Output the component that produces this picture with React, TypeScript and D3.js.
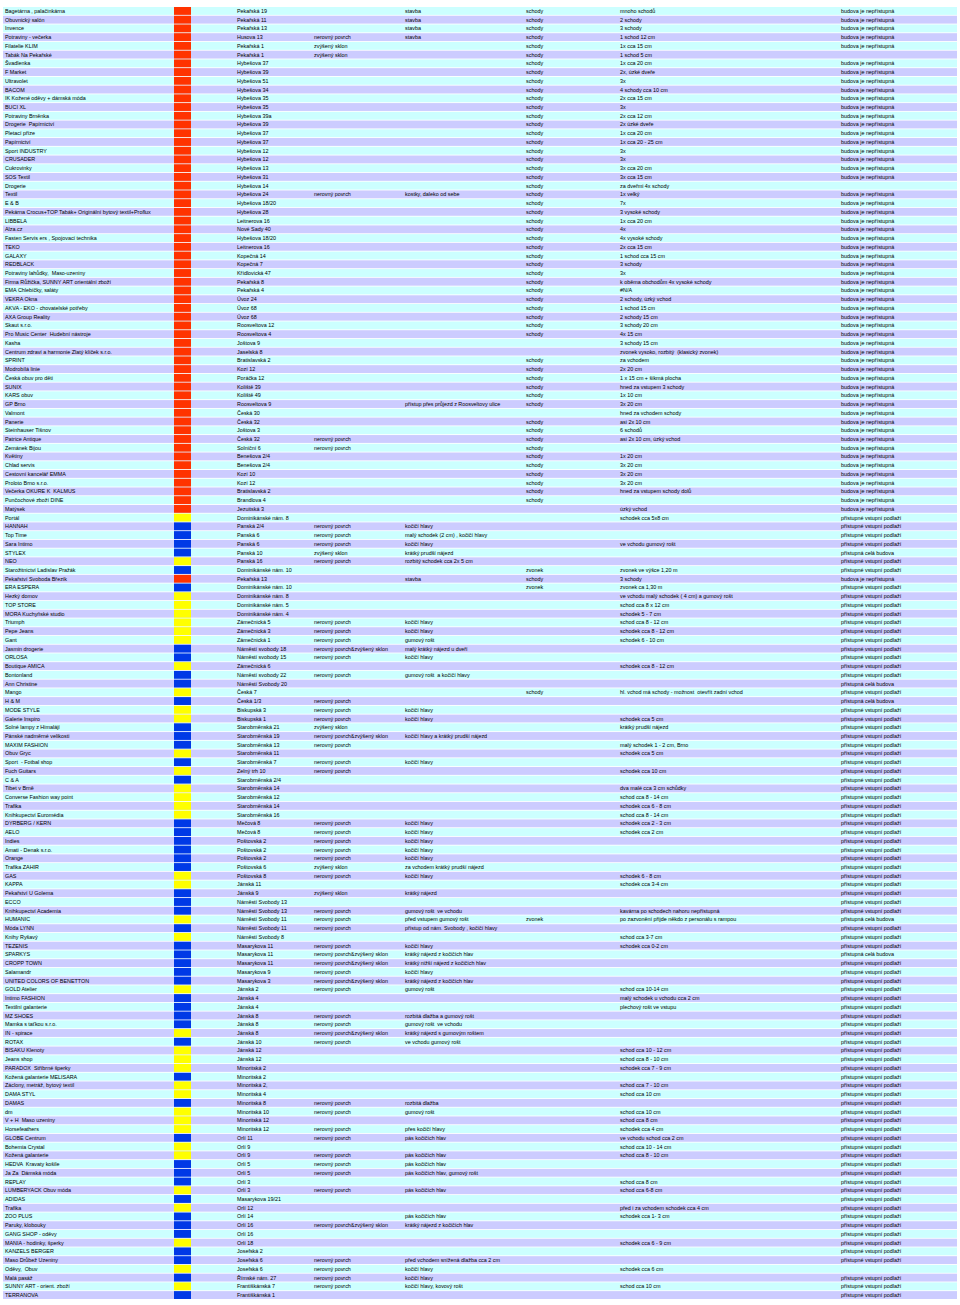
import React, { useEffect, useRef } from "react";
import * as d3 from "d3";

// shop names, one per table row
const shopNames = [
  "Bagetárna , palačinkárna", "Obuvnický salón", "Invence", "Potraviny - večerka", "Filatelie KLIM", "Tabák Na Pekařské", "Švadlenka", "F Market", "Ultravolet", "BACOM",
  "IK Kožené oděvy + dámská móda", "BUCI XL", "Potraviny Brněnka", "Drogerie  Papírnictví", "Pletací příze", "Papírnictví", "Sport INDUSTRY", "CRUSADER", "Cukrovinky", "SOS Textil",
  "Drogerie", "Textil", "E & B", "Pekárna Crocus+TOP Tabák+ Originální bytový textil+Proflux", "LIBBELA", "Alza.cz", "Fasten Servis ers , Spojovací technika", "TEKO", "GALAXY", "REDBLACK",
  "Potraviny lahůdky,  Maso-uzeniny", "Firma Růžička, SUNNY ART orientální zboží", "EMA Chlebíčky, saláty", "VEKRA Okna", "AKVA - EKO - chovatelské potřeby", "AXA Group Reality", "Skaut s.r.o.", "Pro Music Center  Hudební nástroje", "Kasha", "Centrum zdraví a harmonie Zlatý klíček s.r.o.",
  "SPRINT", "Modrobílá linie", "Česká obuv pro děti", "SUNIX", "KARS obuv", "GP Brno", "Valmont", "Panerie", "Steinhauser Tišnov", "Patrice Antique",
  "Zemánek Bijou", "Květiny", "Chlad servis", "Cestovní kancelář EMMA", "Proloto Brno s.r.o.", "Večerka OKURE K  KALMUS", "Punčochové zboží DINE", "Matýsek", "Portál", "HANNAH",
  "Top Time", "Sara Intimo", "STYLEX", "NEO", "Starožitnictví Ladislav Pražák", "Pekařství Svoboda Březík", "ERA ESPERA", "Hezký domov", "TOP STORE", "MORA Kuchyňské studio",
  "Triumph", "Pepe Jeans", "Gant", "Jasmin drogerie", "ORLOSA", "Boutique AMICA", "Bontonland", "Ann Christine", "Mango", "H & M",
  "MODE STYLE", "Galerie Inspiro", "Solné lampy z Himalájí", "Pánské nadměrné velikosti", "MAXIM FASHION", "Obuv Gryc", "Sport  - Fotbal shop", "Fuch Guitars", "C & A", "Tibet v Brně",
  "Converse Fashion way point", "Trafika", "Knihkupectví Euromédia", "DYRBERG / KERN", "AELO", "Indies", "Amati - Denak s.r.o.", "Orange", "Trafika ZAHIR", "GAS",
  "KAPPA", "Pekařství U Golema", "ECCO", "Knihkupectví Academia", "HUMANIC", "Móda LYNN", "Knihy Ryšavý", "TEZENIS", "SPARKYS", "CROPP TOWN",
  "Salamandr", "UNITED COLORS OF BENETTON", "GOLD Atelier", "Intimo FASHION", "Textilní galanterie", "MZ SHOES", "Mamka s taťkou s.r.o.", "IN - spirace", "ROTAX", "BISAKU Klenoty",
  "Jeans shop", "PARADOX  Stříbrné šperky", "Kožená galanterie MELISARA", "Záclony, metráž, bytový textil", "DAMA STYL", "DAMAS", "dm", "V + H  Maso uzeniny", "Horsefeathers", "GLOBE Centrum",
  "Bohemia Crystal", "Kožená galanterie", "HEDVA  Kravaty košile", "Ja Za  Dámská móda", "REPLAY", "LUMBERYACK Obuv móda", "ADIDAS", "Trafika", "ZOO PLUS", "Paruky, klobouky",
  "GANG SHOP - oděvy", "MANIA - hodinky, šperky", "KANZELS BERGER", "Maso Drůbež Uzeniny", "Oděvy,  Obuv", "Malá pasáž", "SUNNY ART - orient. zboží", "TERRANOVA",
];

// r = nepřístupná (red), y = částečně (yellow), b = přístupná (blue)
const colorCodes = [
  "r", "r", "r", "r", "r", "r", "r", "r", "r", "r",
  "r", "r", "r", "r", "r", "r", "r", "r", "r", "r",
  "r", "r", "r", "r", "r", "r", "r", "r", "r", "r",
  "r", "r", "r", "r", "r", "r", "r", "r", "r", "r",
  "r", "r", "r", "r", "r", "r", "r", "r", "r", "r",
  "r", "r", "r", "r", "r", "r", "r", "r", "y", "b",
  "b", "b", "b", "y", "b", "r", "b", "y", "y", "y",
  "y", "y", "y", "b", "b", "y", "b", "b", "y", "b",
  "y", "y", "b", "b", "b", "y", "b", "y", "b", "y",
  "y", "y", "y", "b", "b", "b", "b", "b", "b", "y",
  "y", "b", "b", "b", "y", "b", "y", "b", "b", "b",
  "b", "b", "y", "b", "b", "b", "b", "y", "b", "y",
  "y", "y", "b", "y", "y", "b", "y", "y", "y", "b",
  "y", "y", "b", "b", "b", "y", "b", "y", "b", "b",
  "b", "y", "b", "b", "y", "b", "y", "b",
];

const streets = [
  "Pekařská 19", "Pekařská 11", "Pekařská 13", "Husova 13", "Pekařská 1", "Pekařská 1", "Hybešova 37", "Hybešova 39", "Hybešova 51", "Hybešova 34",
  "Hybešova 35", "Hybešova 35", "Hybešova 39a", "Hybešova 39", "Hybešova 37", "Hybešova 37", "Hybešova 12", "Hybešova 12", "Hybešova 13", "Hybešova 31",
  "Hybešova 14", "Hybešova 24", "Hybešova 18/20", "Hybešova 28", "Leitnerova 16", "Nové Sady 40", "Hybešova 18/20", "Leitnerova 16", "Kopečná 14", "Kopečná 7",
  "Křídlovická 47", "Pekařská 8", "Pekařská 4", "Úvoz 24", "Úvoz 68", "Úvoz 68", "Roosveltova 12", "Roosveltova 4", "Joštova 9", "Jaselská 8",
  "Bratislavská 2", "Kozí 12", "Poráčka 12", "Koliště 39", "Koliště 49", "Roosveltova 9", "Česká 30", "Česká 32", "Joštova 3", "Česká 32",
  "Solniční 6", "Benešova 2/4", "Benešova 2/4", "Kozí 10", "Kozí 12", "Bratislavská 2", "Brandlova 4", "Jezuitská 3", "Dominikánské nám. 8", "Panská 2/4",
  "Panská 6", "Panská 6", "Panská 10", "Panská 16", "Dominikánské nám. 10", "Pekařská 13", "Dominikánské nám. 10", "Dominikánské nám. 8", "Dominikánské nám. 5", "Dominikánské nám. 4",
  "Zámečnická 5", "Zámečnická 3", "Zámečnická 1", "Náměstí svobody 18", "Náměstí svobody 15", "Zámečnická 6", "Náměstí svobody 22", "Náměstí Svobody 20", "Česká 7", "Česká 1/3",
  "Biskupská 3", "Biskupská 1", "Starobrněnská 21", "Starobrněnská 19", "Starobrněnská 13", "Starobrněnská 11", "Starobrněnská 7", "Zelný trh 10", "Starobrněnská 2/4", "Starobrněnská 14",
  "Starobrněnská 12", "Starobrněnská 14", "Starobrněnská 16", "Mečová 8", "Mečová 8", "Poštovská 2", "Poštovská 2", "Poštovská 2", "Poštovská 6", "Poštovská 8",
  "Jánská 11", "Jánská 9", "Náměstí Svobody 13", "Náměstí Svobody 13", "Náměstí Svobody 11", "Náměstí Svobody 11", "Náměstí Svobody 8", "Masarykova 11", "Masarykova 11", "Masarykova 11",
  "Masarykova 9", "Masarykova 3", "Jánská 2", "Jánská 4", "Jánská 4", "Jánská 8", "Jánská 8", "Jánská 8", "Jánská 10", "Jánská 12",
  "Jánská 12", "Minoritská 2", "Minoritská 2", "Minoritská 2,", "Minoritská 4", "Minoritská 8", "Minoritská 10", "Minoritská 12", "Minoritská 12", "Orlí 11",
  "Orlí 9", "Orlí 9", "Orlí 5", "Orlí 5", "Orlí 3", "Orlí 3", "Masarykova 19/21", "Orlí 12", "Orlí 14", "Orlí 16",
  "Orlí 16", "Orlí 18", "Josefská 2", "Josefská 6", "Josefská 6", "Římské nám. 27", "Františkánská 7", "Františkánská 1",
];

// N = nerovný povrch, Z = zvýšený sklon, NZ = both
const surfaceCodes = [
  "", "", "", "N", "Z", "Z", "", "", "", "",
  "", "", "", "", "", "", "", "", "", "",
  "", "N", "", "", "", "", "", "", "", "",
  "", "", "", "", "", "", "", "", "", "",
  "", "", "", "", "", "", "", "", "", "N",
  "N", "", "", "", "", "", "", "", "", "N",
  "N", "N", "Z", "N", "", "", "", "", "", "",
  "N", "N", "N", "NZ", "N", "", "N", "", "", "N",
  "N", "N", "Z", "NZ", "N", "", "N", "N", "", "",
  "", "", "", "N", "N", "N", "N", "N", "Z", "N",
  "", "Z", "", "N", "N", "N", "", "N", "NZ", "NZ",
  "N", "NZ", "N", "", "", "N", "N", "NZ", "N", "",
  "", "", "", "", "", "N", "N", "", "N", "N",
  "", "N", "N", "N", "", "N", "", "", "", "NZ",
  "", "", "", "N", "N", "N", "N", "",
];

const surfaceNotes = [
  "stavba", "stavba", "stavba", "stavba", "", "", "", "", "", "",
  "", "", "", "", "", "", "", "", "", "",
  "", "kostky, daleko od sebe", "", "", "", "", "", "", "", "",
  "", "", "", "", "", "", "", "", "", "",
  "", "", "", "", "", "přístup přes průjezd z Roosveltovy ulice", "", "", "", "",
  "", "", "", "", "", "", "", "", "", "kočičí hlavy",
  "malý schodek (2 cm) , kočičí hlavy", "kočičí hlavy", "krátký prudší nájezd", "rozbitý schodek cca 2x 5 cm", "", "stavba", "", "", "", "",
  "kočičí hlavy", "kočičí hlavy", "gumový rošt", "malý krátký nájezd u dveří", "kočičí hlavy", "", "gumový rošt  a kočičí hlavy", "", "", "",
  "kočičí hlavy", "kočičí hlavy", "", "kočičí hlavy a krátký prudší nájezd", "", "", "kočičí hlavy", "", "", "",
  "", "", "", "kočičí hlavy", "kočičí hlavy", "kočičí hlavy", "kočičí hlavy", "kočičí hlavy", "za vchodem krátký prudší nájezd", "kočičí hlavy",
  "", "krátký nájezd", "", "gumový rošt  ve vchodu", "před vstupem gumový rošt", "přístup od nám. Svobody , kočičí hlavy", "", "kočičí hlavy", "krátký nájezd z kočičích hlav", "krátký nižší nájezd z kočičích hlav",
  "kočičí hlavy", "krátký nájezd z kočičích hlav", "gumový rošt", "", "", "rozbitá dlažba a gumový rošt", "gumový rošt  ve vchodu", "krátký nájezd s gumovým roštem", "ve vchodu gumový rošt", "",
  "", "", "", "", "", "rozbitá dlažba", "gumový rošt", "", "přes kočičí hlavy", "pás kočičích hlav",
  "", "pás kočičích hlav", "pás kočičích hlav", "pás kočičích hlav, gumový rošt", "", "pás kočičích hlav", "", "", "pás kočičích hlav", "krátký nájezd z kočičích hlav",
  "", "", "", "před vchodem snížená dlažba cca 2 cm", "kočičí hlavy", "kočičí hlavy", "kočičí hlavy, kovový rošt", "",
];

// S = schody, Z = zvonek
const entryCodes = [
  "S", "S", "S", "S", "S", "S", "S", "S", "S", "S",
  "S", "S", "S", "S", "S", "S", "S", "S", "S", "S",
  "S", "S", "S", "S", "S", "S", "S", "S", "S", "S",
  "S", "S", "S", "S", "S", "S", "S", "S", "", "",
  "S", "S", "S", "S", "S", "S", "", "S", "S", "S",
  "S", "S", "S", "S", "S", "S", "S", "", "", "",
  "", "", "", "", "Z", "S", "Z", "", "", "",
  "", "", "", "", "", "", "", "", "S", "",
  "", "", "", "", "", "", "", "", "", "",
  "", "", "", "", "", "", "", "", "", "",
  "", "", "", "", "Z", "", "", "", "", "",
  "", "", "", "", "", "", "", "", "", "",
  "", "", "", "", "", "", "", "", "", "",
  "", "", "", "", "", "", "", "", "", "",
  "", "", "", "", "", "", "", "",
];

const entryNotes = [
  "mnoho schodů", "2 schody", "3 schody", "1 schod 12 cm", "1x cca 15 cm", "1 schod 5 cm", "1x cca 20 cm", "2x, úzké dveře", "3x", "4 schody cca 10 cm",
  "2x cca 15 cm", "3x", "2x cca 12 cm", "2x úzké dveře", "1x cca 20 cm", "1x cca 20 - 25 cm", "3x", "3x", "3x cca 20 cm", "3x cca 15 cm",
  "za dveřmi 4x schody", "1x velký", "7x", "3 vysoké schody", "1x cca 20 cm", "4x", "4x vysoké schody", "2x cca 15 cm", "1 schod cca 15 cm", "3 schody",
  "3x", "k oběma obchodům 4x vysoké schody", "#N/A", "2 schody, úzký vchod", "1 schod 15 cm", "2 schody 15 cm", "3 schody 20 cm", "4x 15 cm", "3 schody 15 cm", "zvonek vysoko, rozbitý  (klasický zvonek)",
  "za vchodem", "2x 20 cm", "1 x 15 cm + šikmá plocha", "hned za vstupem 3 schody", "1x 10 cm", "3x 20 cm", "hned za vchodem schody", "asi 2x 10 cm", "6 schodů", "asi 2x 10 cm, úzký vchod",
  "", "1x 20 cm", "3x 20 cm", "3x 20 cm", "3x 20 cm", "hned za vstupem schody dolů", "", "úzký vchod", "schodek cca 5x8 cm", "",
  "", "ve vchodu gumový rošt", "", "", "zvonek ve výšce 1,20 m", "3 schody", "zvonek ca 1,30 m", "ve vchodu malý schodek ( 4 cm) a gumový rošt", "schod cca 8 x 12 cm", "schodek 5 - 7 cm",
  "schod cca 8 - 12 cm", "schodek cca 8 - 12 cm", "schodek 6 - 10 cm", "", "", "schodek cca 8 - 12 cm", "", "", "hl. vchod má schody - možnost  otevřít zadní vchod", "",
  "", "schodek cca 5 cm", "krátký prudší nájezd", "", "malý schodek 1 - 2 cm, Brno", "schodek cca 5 cm", "", "schodek cca 10 cm", "", "dva malé cca 3 cm schůdky",
  "schod cca 8 - 14 cm", "schodek cca 6 - 8 cm", "schod cca 8 - 14 cm", "schodek cca 2 - 3 cm", "schodek cca 2 cm", "", "", "", "", "schodek 6 - 8 cm",
  "schodek cca 3-4 cm", "", "", "kavárna po schodech nahoru nepřístupná", "po zazvonění přijde někdo z personálu s rampou", "", "schod cca 3-7 cm", "schodek cca 0-2 cm", "", "",
  "", "", "schod cca 10-14 cm", "malý schodek u vchodu cca 2 cm", "plechový rošt ve vstupu", "", "", "", "", "schod cca 10 - 12 cm",
  "schod cca 8 - 10 cm", "schodek cca 7 - 9 cm", "", "schod cca 7 - 10 cm", "schod cca 10 cm", "", "schod cca 10 cm", "schod cca 8 cm", "schodek cca 4 cm", "ve vchodu schod cca 2 cm",
  "schod cca 10 - 14 cm", "schod cca 8 - 10 cm", "", "", "schod cca 8 cm", "schod cca 6-8 cm", "", "před i za vchodem schodek cca 4 cm", "schodek cca 1- 3 cm", "",
  "", "schodek cca 6 - 9 cm", "", "", "schodek cca 6 cm", "", "schod cca 10 cm", "",
];

// n = budova je nepřístupná, v = přístupné vstupní podlaží, c = přístupná celá budova
const accessCodes = [
  "n", "n", "n", "n", "n", "", "n", "n", "n", "n",
  "n", "n", "n", "n", "n", "n", "n", "n", "n", "n",
  "", "n", "n", "n", "n", "n", "n", "n", "n", "n",
  "n", "n", "n", "n", "n", "n", "n", "n", "n", "n",
  "n", "n", "n", "n", "n", "n", "n", "n", "n", "n",
  "n", "n", "n", "n", "n", "n", "n", "n", "v", "v",
  "v", "v", "c", "v", "v", "n", "v", "v", "v", "v",
  "v", "v", "v", "v", "v", "v", "v", "c", "v", "c",
  "v", "v", "v", "v", "v", "v", "v", "v", "v", "v",
  "v", "v", "v", "v", "v", "v", "v", "v", "v", "v",
  "v", "v", "v", "v", "c", "v", "v", "v", "c", "v",
  "v", "v", "v", "v", "v", "v", "v", "v", "v", "v",
  "v", "v", "v", "v", "v", "v", "v", "v", "v", "v",
  "v", "v", "v", "v", "v", "v", "v", "v", "v", "v",
  "v", "v", "v", "v", "", "v", "v", "v",
];

const surfaceLabels: Record<string, string> = { "": "", N: "nerovný povrch", Z: "zvýšený sklon", NZ: "nerovný povrch&zvýšený sklon" };
const entryLabels: Record<string, string> = { "": "", S: "schody", Z: "zvonek" };
const accessLabels: Record<string, string> = {
  "": "",
  n: "budova je nepřístupná",
  v: "přístupné vstupní podlaží",
  c: "přístupná celá budova",
};

const width = 960;
const height = 1305;

export default function App() {
  const ref = useRef<SVGSVGElement>(null);

  useEffect(() => {
    const svg = d3.select(ref.current);
    svg.selectAll("*").remove();

    const n = shopNames.length;
    const y = d3.scaleBand<number>().domain(d3.range(n)).range([7, 1299]).paddingInner(0.1);

    const swatch = d3
      .scaleOrdinal<string, string>()
      .domain(["r", "y", "b"])
      .range(["#ff3300", "#ffff00", "#0039e6"]);

    // row stripes
    svg
      .selectAll("rect.row")
      .data(d3.range(n))
      .enter()
      .append("rect")
      .attr("class", "row")
      .attr("x", 3)
      .attr("y", (i) => y(i)!)
      .attr("width", 954)
      .attr("height", y.bandwidth())
      .attr("fill", (i) => (i % 2 === 0 ? "#ccffff" : "#ccccff"));

    // colour flags
    svg
      .selectAll("rect.flag")
      .data(colorCodes)
      .enter()
      .append("rect")
      .attr("class", "flag")
      .attr("x", 174)
      .attr("y", (d, i) => y(i)!)
      .attr("width", 17)
      .attr("height", y.bandwidth())
      .attr("fill", (d) => swatch(d));

    const columns: { x: number; values: string[] }[] = [
      { x: 5, values: shopNames },
      { x: 237, values: streets },
      { x: 314, values: surfaceCodes.map((c) => surfaceLabels[c]) },
      { x: 405, values: surfaceNotes },
      { x: 526, values: entryCodes.map((c) => entryLabels[c]) },
      { x: 620, values: entryNotes },
      { x: 841, values: accessCodes.map((c) => accessLabels[c]) },
    ];

    columns.forEach((col) => {
      svg
        .append("g")
        .selectAll("text")
        .data(col.values)
        .enter()
        .append("text")
        .attr("x", col.x)
        .attr("y", (d, i) => y(i)! + y.bandwidth() / 2 + 2)
        .attr("font-family", "'Liberation Sans', Arial, sans-serif")
        .attr("font-size", 5.4)
        .attr("fill", "#000")
        .style("white-space", "pre")
        .text((d) => d);
    });
  }, []);

  return (
    <svg
      ref={ref}
      width={width}
      height={height}
      style={{ position: "absolute", left: 0, top: 0, background: "#fff" }}
    />
  );
}
